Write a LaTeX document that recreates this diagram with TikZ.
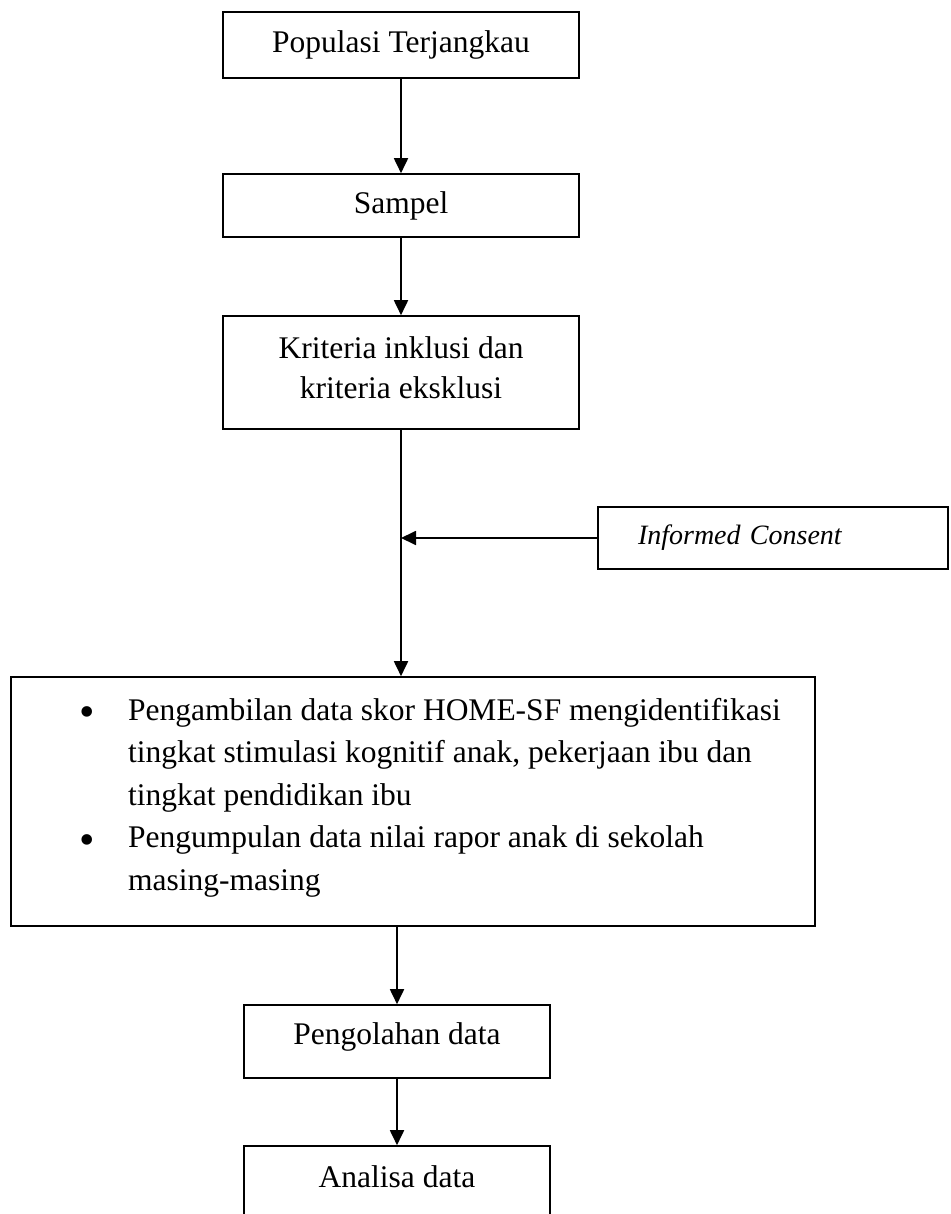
\documentclass[tikz,border=0pt]{standalone}
\usepackage{fontspec}
\setmainfont{Liberation Serif}
\usetikzlibrary{arrows.meta}
\newcommand{\bigbul}{\raisebox{-6.5pt}{\scalebox{1.4}{\textbullet}}}
\tikzset{
  flowbox/.style={draw=black, line width=1.6pt, rectangle, inner sep=0pt, align=center,
    font=\fontsize{31.5}{40}\selectfont},
  arr/.style={line width=1.8pt, -{Triangle[length=15pt,width=14pt]}},
}
\begin{document}
\begin{tikzpicture}[x=1pt,y=-1pt]
\useasboundingbox (0,0) rectangle (950,1214);
\clip (0,0) rectangle (950,1214);
\node[flowbox, minimum width=356pt, minimum height=66pt] (b1) at (401,45) {Populasi Terjangkau};
\node[flowbox, minimum width=356pt, minimum height=63pt] (b2) at (401,205.5) {Sampel};
\node[flowbox, minimum width=356pt, minimum height=113pt] (b3) at (401,372.5) {Kriteria inklusi dan\\kriteria eksklusi\rule[-10pt]{0pt}{10pt}};
\node[flowbox, minimum width=350pt, minimum height=62pt, inner xsep=40pt, text width=270pt, align=left,
  font=\fontsize{28}{36}\selectfont\itshape] (ic) at (773,538) {Informed Consent};
\node[draw=black, line width=1.6pt, rectangle, minimum width=804pt, minimum height=249pt] (big) at (413,801.5) {};
\node[inner sep=0pt, anchor=base west, font=\fontsize{31.5}{42.5}\selectfont] (bl) at (79,720) {%
  \begin{tabular}[t]{@{}p{49pt}@{}l@{}}
  \bigbul & Pengambilan data skor HOME-SF mengidentifikasi\\
   & tingkat stimulasi kognitif anak, pekerjaan ibu dan\\
   & tingkat pendidikan ibu\\
  \bigbul & Pengumpulan data nilai rapor anak di sekolah\\
   & masing-masing
  \end{tabular}};
\node[flowbox, minimum width=306pt, minimum height=73pt] (pg) at (397,1041.5) {Pengolahan data\rule[-16pt]{0pt}{16pt}};
\node[flowbox, minimum width=306pt, minimum height=73pt] (an) at (397,1182.5) {Analisa data\rule[-12pt]{0pt}{12pt}};
\draw[arr] (b1.south) -- (b2.north);
\draw[arr] (b2.south) -- (b3.north);
\draw[arr] (b3.south) -- (b3.south |- big.north);
\draw[arr] (ic.west) -- (ic.west -| b3.south);
\draw[arr] (pg.north |- big.south) -- (pg.north);
\draw[arr] (pg.south) -- (an.north);
\end{tikzpicture}
\end{document}
